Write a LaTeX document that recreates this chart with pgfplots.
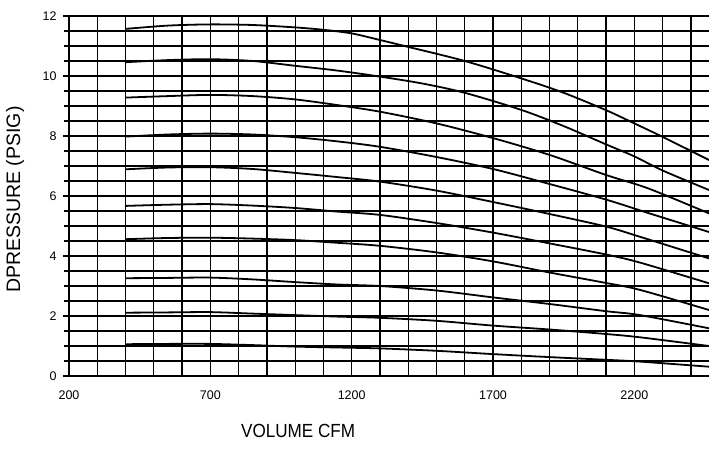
\documentclass[border=0pt]{standalone}
\usepackage{fontspec}
\setmainfont{Liberation Sans}
\usepackage{pgfplots}
\pgfplotsset{compat=1.18}

\begin{document}
\begin{tikzpicture}
\pgfplotsset{fancurve/.style={black, line width=1.8pt, smooth, tension=0.5, mark=none}}
\begin{axis}[
    name=main,
    scale only axis,
    width=640pt, height=360pt,
    xmin=200, xmax=2464,
    ymin=0, ymax=12,
    axis x line*=bottom,
    axis y line*=left,
    axis line style={black, line width=1.4pt},
    xtick={200,700,...,2200},
    minor xtick={200,300,...,2400},
    ytick={0,2,...,12},
    minor ytick={0,0.5,...,12},
    grid=minor,
    minor grid style={black, line width=1.3pt},
    x tick style={draw=none},
    minor x tick style={draw=none},
    y tick style={black, line width=1.2pt},
    tick align=outside,
    major tick length=6pt,
    minor tick length=5pt,
    /pgf/number format/assume math mode=true,
    /pgf/number format/1000 sep={},
    tick label style={font=\fontsize{12.5}{14}\selectfont},
    xticklabel style={yshift=-5pt},
    yticklabel style={xshift=-3pt},
    every axis x label/.style={at={(rel axis cs:0.358,0)}, anchor=center, yshift=-55pt,
        font=\fontsize{19}{22}\selectfont},
    every axis y label/.style={at={(rel axis cs:0,0.49)}, anchor=center, rotate=90, yshift=54pt,
        font=\fontsize{19.5}{22}\selectfont},
    xlabel={\scalebox{0.9}[1]{VOLUME CFM}},
    ylabel={DPRESSURE (PSIG)},
]
\addplot[fancurve] coordinates {(400,11.57)(550,11.68)(700,11.72)(850,11.70)(1000,11.62)(1100,11.54)(1200,11.42)(1300,11.20)(1400,10.97)(1600,10.50)(1800,9.92)(1950,9.44)(2100,8.86)(2200,8.42)(2300,7.97)(2464,7.20)};
\addplot[fancurve] coordinates {(400,10.46)(550,10.53)(700,10.56)(850,10.50)(1000,10.34)(1150,10.18)(1300,9.98)(1450,9.75)(1600,9.44)(1800,8.87)(1950,8.33)(2100,7.72)(2200,7.32)(2300,6.85)(2464,6.20)};
\addplot[fancurve] coordinates {(400,9.28)(550,9.33)(700,9.37)(850,9.33)(1000,9.22)(1150,9.03)(1300,8.81)(1500,8.42)(1700,7.93)(1900,7.37)(2100,6.70)(2250,6.25)(2464,5.42)};
\addplot[fancurve] coordinates {(400,7.98)(550,8.05)(700,8.08)(850,8.05)(1000,7.96)(1150,7.82)(1300,7.64)(1500,7.30)(1700,6.90)(1900,6.40)(2100,5.88)(2250,5.43)(2464,4.80)};
\addplot[fancurve] coordinates {(400,6.89)(550,6.95)(700,6.96)(850,6.90)(1000,6.77)(1150,6.63)(1300,6.48)(1500,6.18)(1700,5.80)(1900,5.40)(2100,4.98)(2220,4.64)(2464,3.92)};
\addplot[fancurve] coordinates {(400,5.67)(550,5.71)(700,5.73)(850,5.68)(1000,5.60)(1150,5.48)(1300,5.37)(1500,5.10)(1700,4.78)(1900,4.42)(2100,4.05)(2220,3.78)(2464,3.09)};
\addplot[fancurve] coordinates {(400,4.56)(550,4.60)(700,4.61)(850,4.58)(1000,4.53)(1150,4.44)(1300,4.34)(1500,4.12)(1700,3.82)(1900,3.45)(2100,3.10)(2220,2.87)(2464,2.20)};
\addplot[fancurve] coordinates {(400,3.26)(550,3.27)(700,3.28)(850,3.22)(1000,3.13)(1150,3.05)(1300,3.00)(1500,2.85)(1700,2.62)(1900,2.40)(2100,2.16)(2220,2.03)(2464,1.59)};
\addplot[fancurve] coordinates {(400,2.11)(550,2.12)(700,2.13)(850,2.08)(1000,2.03)(1150,1.98)(1300,1.94)(1500,1.84)(1700,1.68)(1900,1.55)(2100,1.40)(2220,1.29)(2464,1.00)};
\addplot[fancurve] coordinates {(400,1.06)(550,1.07)(700,1.07)(850,1.03)(1000,0.98)(1150,0.95)(1300,0.92)(1500,0.84)(1700,0.73)(1900,0.63)(2100,0.54)(2220,0.48)(2464,0.31)};
\end{axis}
% fix the page to the reference's margins round the plot area
\pgfresetboundingbox
\useasboundingbox ([xshift=-69pt,yshift=-75pt]main.south west) rectangle ([yshift=16pt]main.north east);
\end{tikzpicture}
\end{document}
